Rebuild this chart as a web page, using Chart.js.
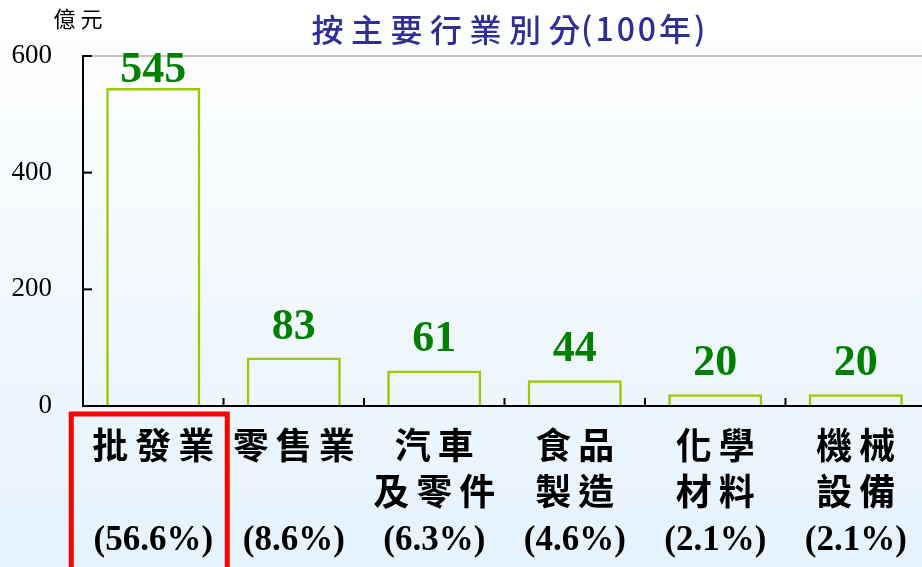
<!DOCTYPE html>
<html>
<head>
<meta charset="utf-8">
<script src="https://cdn.jsdelivr.net/npm/chart.js@4.4.1/dist/chart.umd.min.js"></script>
<style>
  html, body { margin: 0; padding: 0; overflow: hidden; background: #fff; }
  #contenedor { width: 930px; height: 567px; }
</style>
</head>
<body>
<div id="contenedor"><canvas id="grafico" width="930" height="567"></canvas></div>
<script>
// Datos
const categorias = ['批發業', '零售業', '汽車及零件', '食品製造', '化學材料', '機械設備']
const lineas_categoria = [['批發業'], ['零售業'], ['汽車', '及零件'], ['食品', '製造'], ['化學', '材料'], ['機械', '設備']]
const valores = [545, 83, 61, 44, 20, 20]
const porcentajes = ['(56.6%)', '(8.6%)', '(6.3%)', '(4.6%)', '(2.1%)', '(2.1%)']
const ticks_y = [0, 200, 400, 600]
const titulo = '按主要行業別分'
const titulo_anio = '(100年)'
const unidad = '億元'

const fuente_cjk = '"Noto Sans CJK TC", "Noto Sans CJK SC", sans-serif'
const fuente_serif = '"Liberation Serif", "DejaVu Serif", serif'

// Fondo degradado blanco -> celeste
const fondo = {
  id: 'fondo',
  beforeDraw(chart) {
    const { ctx, width, height } = chart
    const g = ctx.createLinearGradient(0, 0, 0, height)
    g.addColorStop(0, '#ffffff')
    g.addColorStop(1, '#e5f2fc')
    ctx.save()
    ctx.fillStyle = g
    ctx.fillRect(0, 0, width, height)
    ctx.restore()
  }
}

const escribirEspaciado = (ctx, texto, cx, cy, paso) => {
  const chars = [...texto]
  const inicio = cx - paso * (chars.length - 1) / 2
  chars.forEach((c, k) => ctx.fillText(c, inicio + k * paso, cy))
}

const textos = {
  id: 'textos',
  afterDraw(chart) {
    const { ctx, chartArea, scales: { x, y } } = chart
    const meta = chart.getDatasetMeta(0)
    ctx.save()

    // marcas de los ejes hacia adentro
    ctx.strokeStyle = '#000'
    ctx.lineWidth = 2
    y.ticks.forEach(t => {
      if (t.value > 0) {
        const py = y.getPixelForValue(t.value)
        ctx.beginPath(); ctx.moveTo(chartArea.left, py); ctx.lineTo(chartArea.left + 9, py); ctx.stroke()
      }
    })
    for (let i = 1; i < categorias.length; i++) {
      const px = (x.getPixelForValue(i - 1) + x.getPixelForValue(i)) / 2
      ctx.beginPath(); ctx.moveTo(px, chartArea.bottom); ctx.lineTo(px, chartArea.bottom - 8); ctx.stroke()
    }

    // valores sobre las barras
    ctx.fillStyle = '#008000'
    ctx.font = 'bold 44px ' + fuente_serif
    ctx.textAlign = 'center'
    ctx.textBaseline = 'alphabetic'
    meta.data.forEach((bar, i) => {
      const base = Math.max(bar.y - 19, chartArea.top + 26)
      ctx.fillText(String(valores[i]), bar.x, base)
    })

    // nombres de categorías y porcentajes
    ctx.fillStyle = '#000'
    ctx.textBaseline = 'middle'
    lineas_categoria.forEach((lineas, i) => {
      const cx = x.getPixelForValue(i)
      ctx.font = 'bold 36px ' + fuente_cjk
      lineas.forEach((l, k) => escribirEspaciado(ctx, l, cx, chartArea.bottom + 39 + k * 46, 43))
      ctx.font = 'bold 35px ' + fuente_serif
      ctx.fillText(porcentajes[i], cx, chartArea.bottom + 135)
    })

    // recuadro rojo en la primera categoría
    const c0 = x.getPixelForValue(0) - 4
    ctx.strokeStyle = '#ff0000'
    ctx.lineWidth = 5
    ctx.strokeRect(c0 - 78, chartArea.bottom + 8, 156, 200)

    // título
    ctx.fillStyle = '#2e2e96'
    ctx.font = '500 32px ' + fuente_cjk
    escribirEspaciado(ctx, titulo, 446, 30, 39.5)
    ctx.textAlign = 'left'
    ctx.letterSpacing = '3px'
    ctx.fillText(titulo_anio, 581, 29)
    ctx.letterSpacing = '0px'

    // unidad
    ctx.fillStyle = '#000'
    ctx.font = '22px ' + fuente_cjk
    ctx.textAlign = 'center'
    escribirEspaciado(ctx, unidad, 78, 19, 27)

    ctx.restore()
  }
}

window.addEventListener('load', () => {
  new Chart(document.getElementById('grafico'), {
    type: 'bar',
    data: {
      labels: categorias,
      datasets: [{
        data: valores,
        backgroundColor: 'rgba(0,0,0,0)',
        borderColor: '#99cc00',
        borderWidth: 2.5,
        barPercentage: 0.67,
        categoryPercentage: 1
      }]
    },
    options: {
      responsive: false,
      animation: false,
      devicePixelRatio: 1,
      layout: { padding: { top: 56, right: 4, left: 0, bottom: 0 } },
      plugins: { legend: { display: false }, tooltip: { enabled: false } },
      scales: {
        x: {
          offset: true,
          ticks: { display: false },
          grid: { display: false },
          border: { color: '#000', width: 2 },
          afterFit: (s) => { s.height = 161 }
        },
        y: {
          min: 0,
          max: 600,
          afterBuildTicks: (s) => { s.ticks = ticks_y.map(v => ({ value: v })) },
          ticks: { color: '#000', padding: 31, font: { family: fuente_serif, size: 27 } },
          grid: {
            drawTicks: false,
            lineWidth: 2,
            color: (c) => c.tick && c.tick.value === 600 ? '#c4c4c4' : 'rgba(0,0,0,0)'
          },
          border: { color: '#000', width: 2 },
          afterFit: (s) => { s.width = 83 }
        }
      }
    },
    plugins: [fondo, textos]
  })
})
</script>
</body>
</html>
